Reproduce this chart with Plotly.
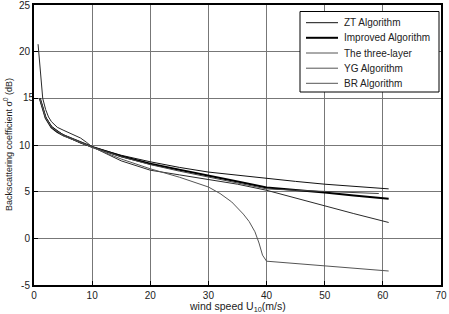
import plotly.graph_objects as go

# ---- data ----
x_zt = [1, 1.5, 2, 3, 4, 5, 6, 7, 8, 10, 15, 20, 25, 30, 35, 40, 45, 50, 55, 61]
y_zt = [15.0, 13.9, 13.0, 12.0, 11.5, 11.1, 10.8, 10.5, 10.2, 9.8, 8.9, 8.2, 7.6, 7.1, 6.75, 6.4, 6.1, 5.8, 5.55, 5.3]

x_imp = [1, 1.5, 2, 3, 4, 5, 6, 7, 8, 10, 15, 20, 25, 30, 35, 40, 45, 50, 55, 61]
y_imp = [15.0, 13.8, 12.9, 11.9, 11.4, 11.05, 10.8, 10.55, 10.3, 9.8, 8.8, 8.0, 7.35, 6.75, 6.1, 5.45, 5.2, 4.9, 4.6, 4.25]

x_three = [0.7, 1, 1.5, 2, 2.5, 3, 4, 5, 6, 7, 8, 9, 10, 15, 20, 25, 30, 35, 40, 45, 50, 55, 61]
y_three = [20.8, 18.5, 15.0, 13.8, 13.0, 12.5, 11.9, 11.6, 11.3, 11.05, 10.75, 10.3, 9.8, 8.3, 7.3, 6.8, 6.3, 5.8, 5.15, 4.3, 3.5, 2.65, 1.7]

x_yg = [1, 1.5, 2, 3, 4, 5, 6, 7, 8, 10, 15, 20, 25, 30, 35, 40, 45, 50, 55, 59.3]
y_yg = [15.0, 13.85, 12.95, 11.95, 11.45, 11.1, 10.85, 10.6, 10.3, 9.8, 8.75, 7.9, 7.2, 6.57, 5.95, 5.3, 5.15, 5.05, 4.9, 4.8]

x_br = [1, 1.5, 2, 3, 4, 5, 6, 7, 8, 10, 15, 20, 25, 30, 32, 34, 36, 37, 38, 38.7, 39.3, 40, 45, 50, 55, 61]
y_br = [15.0, 13.8, 12.9, 11.9, 11.4, 11.0, 10.75, 10.5, 10.25, 9.8, 8.5, 7.45, 6.55, 5.5, 4.8, 3.9, 2.6, 1.8, 0.7, -0.5, -1.8, -2.45, -2.7, -2.95, -3.2, -3.5]

x_ticks = [0, 10, 20, 30, 40, 50, 60, 70]
y_ticks = [-5, 0, 5, 10, 15, 20, 25]

series = [
    ("ZT Algorithm", x_zt, y_zt, "#111111", 1),
    ("Improved Algorithm", x_imp, y_imp, "#000000", 2),
    ("The three-layer", x_three, y_three, "#2a2a2a", 1),
    ("YG Algorithm", x_yg, y_yg, "#444444", 1),
    ("BR Algorithm", x_br, y_br, "#555555", 1),
]
legend_colors = ["#111111", "#000000", "#555555", "#555555", "#555555"]

fig = go.Figure()
for name, xs, ys, col, w in series:
    fig.add_trace(go.Scatter(x=xs, y=ys, mode="lines", name=name, showlegend=False,
                             line=dict(color=col, width=w)))

# the "15" y tick label, drawn as a text mark on the axis scale
fig.add_trace(go.Scatter(x=[x_ticks[0]], y=[15], mode="text", text=["15"],
                         textposition="middle left", cliponaxis=False, showlegend=False,
                         hoverinfo="skip", textfont=dict(size=10, color="#222222",
                         family="Liberation Sans, Arial, sans-serif")))

# plot-area geometry in pixels, used only to place the boxed legend and titles
L, R, T, B = 34, 441, 5, 285
def px(xp):
    return (xp - L) / (R - L)
def py(yp):
    return 1 - (yp - T) / (B - T)

shapes = [dict(type="rect", xref="paper", yref="paper",
               x0=px(300), x1=px(439), y0=py(92), y1=py(11.5),
               line=dict(color="black", width=1), fillcolor="white", layer="above")]
annotations = []
row_y = [22.7, 37.8, 53.0, 68.2, 83.3]
for (name, _, _, _, w), lc, yy in zip(series, legend_colors, row_y):
    shapes.append(dict(type="line", xref="paper", yref="paper",
                       x0=px(306), x1=px(338), y0=py(yy), y1=py(yy),
                       line=dict(color=lc, width=w), layer="above"))
    annotations.append(dict(text=name, xref="paper", yref="paper", x=px(342), y=py(yy),
                            xanchor="left", yanchor="middle", showarrow=False,
                            font=dict(size=10, color="#222222")))

# axis titles
annotations.append(dict(text="Backscattering coefficient σ<sup>0</sup> (dB)", xref="paper", yref="paper",
                        x=px(8), y=0.5, xanchor="center", yanchor="middle", textangle=-90,
                        showarrow=False, font=dict(size=9, color="#222222")))
annotations.append(dict(text="wind speed U<sub>10</sub>(m/s)", xref="paper", yref="paper",
                        x=0.5, y=py(307), xanchor="center", yanchor="middle",
                        showarrow=False, font=dict(size=10.5, color="#222222")))

font = "Liberation Sans, Arial, sans-serif"
fig.update_layout(
    width=449, height=314,
    margin=dict(l=34, r=8, t=5, b=29),
    paper_bgcolor="white", plot_bgcolor="white",
    font=dict(family=font, size=10, color="#222222"),
    showlegend=False,
    shapes=shapes,
    annotations=annotations,
)
fig.update_xaxes(range=[0, 70], tickmode="array", tickvals=x_ticks, ticktext=[str(v) for v in x_ticks],
                 showgrid=True, gridcolor="#777777", gridwidth=1,
                 zeroline=False, showline=True, linecolor="black", linewidth=2, mirror=True,
                 ticks="inside", ticklen=4, tickcolor="black", ticklabeloverflow="allow",
                 automargin=False)
fig.update_yaxes(range=[-5, 25], tickmode="array", tickvals=y_ticks,
                 ticktext=["" if v == 15 else str(v) for v in y_ticks],
                 showgrid=True, gridcolor="#777777", gridwidth=1,
                 zeroline=False, showline=True, linecolor="black", linewidth=2, mirror=True,
                 ticks="inside", ticklen=4, tickcolor="black", ticklabeloverflow="allow",
                 automargin=False)

fig.write_html("out.html")
